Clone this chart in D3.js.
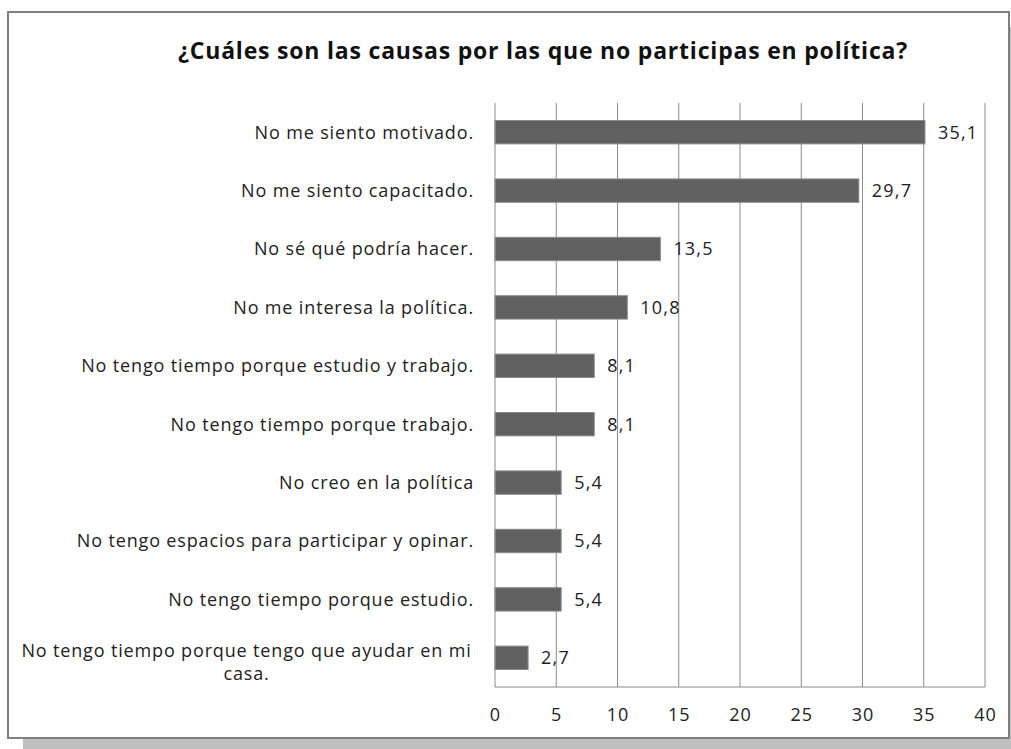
<!DOCTYPE html>
<html>
<head>
<meta charset="utf-8">
<script src="https://cdn.jsdelivr.net/npm/d3@7"></script>
<style>
  body { margin: 0; background: #fff; }
  text { font-family: "Open Sans", "Liberation Sans", sans-serif; fill: #222; }
</style>
</head>
<body>
<svg id="chart" width="1011" height="749"></svg>
<script>
// Chart data
const categories = [
  "No me siento motivado.",
  "No me siento capacitado.",
  "No sé qué podría hacer.",
  "No me interesa la política.",
  "No tengo tiempo porque estudio y trabajo.",
  "No tengo tiempo porque trabajo.",
  "No creo en la política",
  "No tengo espacios para participar y opinar.",
  "No tengo tiempo porque estudio.",
  "No tengo tiempo porque tengo que ayudar en mi casa."
];
const values = [35.1, 29.7, 13.5, 10.8, 8.1, 8.1, 5.4, 5.4, 5.4, 2.7];
const xTicks = [0, 5, 10, 15, 20, 25, 30, 35, 40];
const title = "¿Cuáles son las causas por las que no participas en política?";

const svg = d3.select("#chart");
const margin = { top: 103, right: 26, bottom: 62, left: 495 };
const W = 1011, H = 749;
const fs = 18, ls = "0.85px";

// shadow + frame
svg.append("rect")
  .attr("x", 23).attr("y", 27).attr("width", W).attr("height", H)
  .attr("fill", "#c0c0c0");
svg.append("rect")
  .attr("x", 8).attr("y", 12).attr("width", 1001).attr("height", 726)
  .attr("fill", "#fff").attr("stroke", "#808080").attr("stroke-width", 2);

svg.append("text")
  .attr("x", 543).attr("y", 59)
  .attr("text-anchor", "middle")
  .attr("font-size", 23).attr("font-weight", "bold")
  .attr("letter-spacing", "0.8px")
  .style("fill", "#111")
  .text(title);

const x = d3.scaleLinear().domain([0, 40]).range([margin.left, W - margin.right]);
const y = d3.scaleBand().domain(categories)
  .range([margin.top, H - margin.bottom])
  .paddingInner(0.6).paddingOuter(0.3);

// gridlines
svg.append("g").selectAll("line")
  .data(xTicks.slice(1))
  .join("line")
  .attr("x1", d => x(d)).attr("x2", d => x(d))
  .attr("y1", margin.top).attr("y2", H - margin.bottom)
  .attr("stroke", "#8c8c8c").attr("stroke-width", 1);

// bars
svg.append("g").selectAll("rect")
  .data(values)
  .join("rect")
  .attr("x", x(0))
  .attr("y", (d, i) => y(categories[i]))
  .attr("width", d => x(d) - x(0))
  .attr("height", y.bandwidth())
  .attr("fill", "#606060")
  .attr("stroke", "#8a8a8a").attr("stroke-width", 1);

// axes lines
svg.append("line")
  .attr("x1", x(0)).attr("x2", x(0))
  .attr("y1", margin.top).attr("y2", H - margin.bottom)
  .attr("stroke", "#8c8c8c");
svg.append("line")
  .attr("x1", x(0)).attr("x2", x(40))
  .attr("y1", H - margin.bottom).attr("y2", H - margin.bottom)
  .attr("stroke", "#8c8c8c");

// x tick labels
const xAxis = svg.append("g")
  .attr("transform", `translate(0,${H - margin.bottom + 21})`)
  .call(d3.axisBottom(x).tickValues(xTicks).tickSize(0).tickPadding(0));
xAxis.select(".domain").remove();
xAxis.selectAll("text")
  .attr("font-size", fs)
  .attr("letter-spacing", "1px")
  .attr("font-family", null)
  .attr("fill", null);

// value labels
svg.append("g").selectAll("text")
  .data(values)
  .join("text")
  .attr("x", d => x(d) + 13)
  .attr("y", (d, i) => y(categories[i]) + y.bandwidth() / 2)
  .attr("dy", "0.35em")
  .attr("font-size", fs)
  .attr("letter-spacing", "1.2px")
  .text(d => d.toFixed(1).replace(".", ","));

// category labels, wrapped when too long
const maxW = 455;
const labelX = x(0) - 21;
svg.append("g").selectAll("text")
  .data(categories)
  .join("text")
  .attr("font-size", fs)
  .attr("letter-spacing", ls)
  .each(function (d) {
    const t = d3.select(this);
    t.text(d);
    const cy = y(d) + y.bandwidth() / 2;
    if (this.getComputedTextLength() <= maxW) {
      t.attr("x", labelX).attr("y", cy).attr("dy", "0.35em").attr("text-anchor", "end");
      return;
    }
    // split into lines that fit
    const words = d.split(" ");
    const lines = [];
    let cur = [];
    t.text(null);
    const probe = t.append("tspan");
    words.forEach(w => {
      cur.push(w);
      probe.text(cur.join(" "));
      if (probe.node().getComputedTextLength() > maxW && cur.length > 1) {
        cur.pop();
        lines.push(cur.join(" "));
        cur = [w];
      }
    });
    lines.push(cur.join(" "));
    probe.remove();
    const lh = 23;
    const cx = labelX - maxW / 2;
    t.attr("text-anchor", "middle");
    lines.forEach((ln, k) => {
      t.append("tspan")
        .attr("x", cx)
        .attr("y", cy + 4 + (k - (lines.length - 1) / 2) * lh)
        .attr("dy", "0.35em")
        .text(ln);
    });
  });
</script>
</body>
</html>
